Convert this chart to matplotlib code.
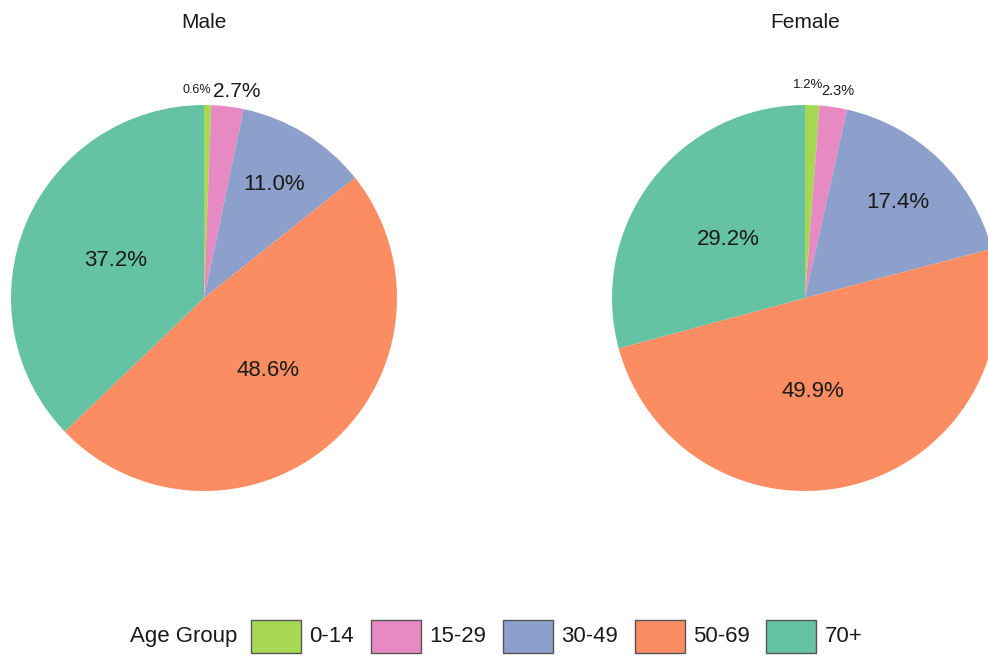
import matplotlib
matplotlib.use('Agg')
import numpy as np
import matplotlib.pyplot as plt
from matplotlib.patches import Rectangle

plt.rcParams['font.family'] = ['Liberation Sans', 'DejaVu Sans']

# age groups and share of cases (%) by sex
groups = ['0-14', '15-29', '30-49', '50-69', '70+']
male = [0.6, 2.7, 11.0, 48.6, 37.2]
female = [1.2, 2.3, 17.4, 49.9, 29.2]
titles = ['Male', 'Female']

colors = ['#A6D854', '#E78AC3', '#8DA0CB', '#FC8D62', '#66C2A5']

# label layout per slice: radius (pie units), font size, sideways nudge
male_lab = dict(r=[1.08, 1.08, 0.69, 0.5, 0.5], size=[9, 15, 16, 16, 16],
                dx=[-0.056, 0.04, 0, 0, 0])
female_lab = dict(r=[1.105, 1.083, 0.69, 0.5, 0.5], size=[9.5, 10.5, 16, 16, 16],
                  dx=[-0.026, 0.01, 0, -0.09, 0])

W, H = 988, 656
fig = plt.figure(figsize=(W/100, H/100), dpi=100)


def pie_axes(cx, cy, r):
    return fig.add_axes([(cx-r)/W, 1-(cy+r)/H, 2*r/W, 2*r/H])


def draw_pie(ax, vals, title, lab):
    ax.pie(vals, colors=colors, startangle=90, counterclock=False,
           radius=1, wedgeprops=dict(linewidth=0))
    ax.set_xlim(-1, 1)
    ax.set_ylim(-1, 1)
    ax.set_aspect('equal')
    ax.axis('off')
    vals = np.array(vals)
    mid = np.cumsum(vals) - vals/2
    for v, m, r, s, dx in zip(vals, mid, lab['r'], lab['size'], lab['dx']):
        a = np.deg2rad(m/vals.sum()*360)
        ax.text(r*np.sin(a)+dx, r*np.cos(a), '%.1f%%' % v, ha='center',
                va='center', fontsize=s, color='#1a1a1a', clip_on=False)
    ax.text(0, 1.399, title, ha='center', va='baseline', fontsize=15,
            color='#1a1a1a', clip_on=False)


R = 193
ax1 = pie_axes(204, 298, R)
ax2 = pie_axes(805, 298, R)
draw_pie(ax1, male, titles[0], male_lab)
draw_pie(ax2, female, titles[1], female_lab)

# legend along the bottom, title on the left
rend = fig.canvas.get_renderer()
yc = 636.5
t = fig.text(130/W, 1-yc/H, 'Age Group', ha='left', va='center', fontsize=16,
             color='#1a1a1a')
x = t.get_window_extent(rend).x1 + 14
for g, c in zip(groups, colors):
    fig.patches.append(Rectangle((x/W, 1-653/H), 50/W, 33/H, facecolor=c,
                                 edgecolor='#555555', lw=1,
                                 transform=fig.transFigure, figure=fig))
    t = fig.text((x+58)/W, 1-yc/H, g, ha='left', va='center', fontsize=16,
                 color='#1a1a1a')
    x = t.get_window_extent(rend).x1 + 17

fig.savefig('out.png', dpi=100)
